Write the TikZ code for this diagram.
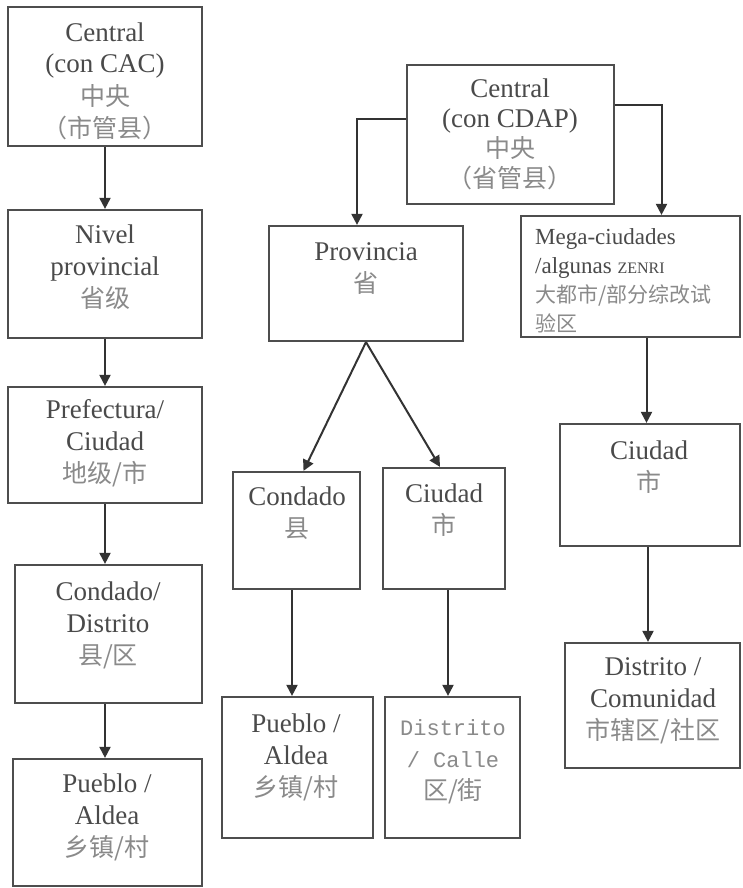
\documentclass[tikz,border=0pt]{standalone}
\usepackage{fontspec}
\setmainfont{Liberation Serif}
\newfontfamily\cjk{Noto Sans CJK SC}
\newfontfamily\monof{Liberation Mono}
\usetikzlibrary{arrows.meta}
\definecolor{txtc}{HTML}{4A4A4A}
\definecolor{cjkc}{HTML}{8A8A8A}
\definecolor{linec}{HTML}{4E4E4E}
\definecolor{arrc}{HTML}{333333}
\newcommand{\cj}{\cjk\color{cjkc}\fontsize{25}{32}\selectfont}
\newcommand{\cjs}{\cjk\color{cjkc}\fontsize{21}{29}\selectfont}
\begin{document}
\begin{tikzpicture}[x=1pt,y=-1pt,
  boxn/.style={draw=linec,line width=2.2pt,rectangle,inner sep=0pt},
  txt/.style={align=center,inner sep=0pt,anchor=base,text=txtc,font=\fontsize{27}{32}\selectfont},
  arr/.style={draw=arrc,line width=2pt,-{Triangle[width=11pt,length=11pt]}}]
\useasboundingbox (0,0) rectangle (742,888);
\fill[white] (0,0) rectangle (742,888);
\newcommand{\bx}[5]{\node[boxn,minimum width={#4-#2},minimum height={#5-#3}] (#1) at ({(#2+#4)/2},{(#3+#5)/2}) {};}
% left column
\bx{L1}{8}{7}{202}{146}
\bx{L2}{8}{210}{202}{338}
\bx{L3}{8}{387}{202}{503}
\bx{L4}{15}{565}{202}{703}
\bx{L5}{13}{759}{202}{886}
% middle / right
\bx{M0}{407}{65}{614}{204}
\bx{P}{269}{226}{463}{341}
\bx{Mega}{521}{216}{740}{337}
\bx{Cond}{233}{472}{360}{589}
\bx{CiuM}{383}{468}{505}{589}
\bx{PuebM}{222}{697}{373}{838}
\bx{DistC}{385}{697}{520}{838}
\bx{CiuR}{560}{424}{740}{546}
\bx{DistCom}{565}{643}{740}{768}
% texts (anchor = baseline of the last line)
\node[txt] (tL1) at (105,137) {Central\\(con CAC)\\{\cj 中央}\\{\cj （市管县）}};
\node[txt] (tL2) at (105,307) {Nivel\\provincial\\{\cj 省级}};
\node[txt] (tL3) at (105,482) {Prefectura/\\Ciudad\\{\cj 地级/市}};
\node[txt] (tL4) at (108,664) {Condado/\\Distrito\\{\cj 县/区}};
\node[txt] (tL5) at (107,856) {Pueblo /\\Aldea\\{\cj 乡镇/村}};
\node[txt,font=\fontsize{27}{30}\selectfont] (tM0) at (510,187) {Central\\(con CDAP)\\{\cjk\color{cjkc}\fontsize{25}{30}\selectfont 中央}\\{\cjk\color{cjkc}\fontsize{25}{30}\selectfont （省管县）}};
\node[txt] (tP) at (366,292) {Provincia\\{\cj 省}};
\node[txt,align=left,anchor=base west,font=\fontsize{23}{29}\selectfont] (tMega) at (535,331) {Mega-ciudades\\/algunas {\fontsize{16}{29}\selectfont ZENRI}\\{\cjs 大都市/部分综改试}\\{\cjs 验区}};
\node[txt] (tCond) at (297,537) {Condado\\{\cj 县}};
\node[txt] (tCiuM) at (444,534) {Ciudad\\{\cj 市}};
\node[txt] (tPuebM) at (296,796) {Pueblo /\\Aldea\\{\cj 乡镇/村}};
\node[txt,font=\monof\fontsize{22}{32}\selectfont,text=cjkc] (tDistC) at (453,799) {Distrito\\/ Calle\\{\cj 区/街}};
\node[txt] (tCiuR) at (649,491) {Ciudad\\{\cj 市}};
\node[txt] (tDistCom) at (653,739) {Distrito /\\Comunidad\\{\cj 市辖区/社区}};
% arrows
\draw[arr] (L1.south) -- (L2.north);
\draw[arr] (L2.south) -- (L3.north);
\draw[arr] (L3.south) -- (L4.north -| L3.south);
\draw[arr] (L4.south -| L3.south) -- (L5.north -| L3.south);
\draw[arr] ([yshift=15.5pt]M0.west) -| ([xshift=-9pt]P.north);
\draw[arr] ([yshift=29.5pt]M0.east) -| ([xshift=31pt]Mega.north);
\draw[arr] (P.south) -- ([xshift=7pt]Cond.north);
\draw[arr] (P.south) -- ([xshift=-4pt]CiuM.north);
\draw[arr] ([xshift=-4.5pt]Cond.south) -- ([xshift=-4.5pt]Cond.south |- PuebM.north);
\draw[arr] ([xshift=4pt]CiuM.south) -- ([xshift=4pt]CiuM.south |- DistC.north);
\draw[arr] ([xshift=16pt]Mega.south) -- ([xshift=16pt]Mega.south |- CiuR.north);
\draw[arr] ([xshift=-2pt]CiuR.south) -- ([xshift=-2pt]CiuR.south |- DistCom.north);
\end{tikzpicture}
\end{document}
